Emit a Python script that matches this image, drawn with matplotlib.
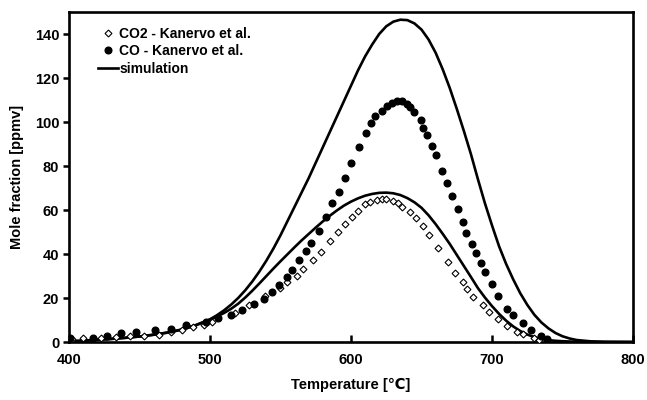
import matplotlib
matplotlib.use('Agg')
import matplotlib.pyplot as plt

# шрифты: Arial-подобный жирный, ℃ берём из DejaVu
plt.rcParams['font.family'] = ['Liberation Sans', 'DejaVu Sans']
plt.rcParams['font.weight'] = 'bold'

# CO2 - Kanervo et al. (ромбы)
co2_t = [402, 410, 423, 433, 443, 453, 464, 472.5, 480, 488, 496, 501.5, 517.7, 528, 538.7,
         549.3, 554.4, 561.7, 566, 573.3, 578.6, 584.9, 590.5, 595.7, 600.7, 605.2, 610.2,
         613.5, 618.5, 621.8, 625, 630, 633.5, 636.5, 641.8, 645.9, 651, 655.5, 661.5,
         668.7, 673.8, 679.7, 682.5, 686.8, 693.8, 698.1, 704.5, 710.9, 717.9, 722.2, 729.5, 733.5]
co2_v = [1.2, 1.8, 2.0, 2.2, 2.6, 2.8, 3.1, 4.4, 5.5, 6.6, 7.7, 8.9, 13, 16.8, 21,
         24.4, 27.1, 30.2, 33, 37.2, 40.9, 45.8, 50.1, 53.6, 56.8, 59.6, 62.6,
         63.5, 64.5, 64.9, 64.9, 64.2, 63.2, 61.5, 59, 56.2, 52.6, 48.8, 42.9,
         36.5, 31.5, 27.4, 24, 20.6, 16.8, 13.8, 10.3, 7.3, 4.7, 3.5, 1.7, 0.9]

# CO - Kanervo et al. (закрашенные кружки)
co_t = [400.7, 416.8, 427, 436.9, 447.3, 461, 472, 483, 497, 505.5, 515, 522.5, 531.5, 538.4,
        543.7, 548.7, 554.7, 558.2, 563.3, 568.4, 571.5, 577, 582.3, 586.5, 591.7, 595.7,
        600, 605.7, 610.6, 614, 617, 621.8, 625.3, 628.9, 632.4, 635.9, 639.5, 642, 644.8,
        649.6, 651.3, 653.7, 657.2, 660.3, 664.5, 668, 671.8, 676.1, 679.2, 681.3, 685.6,
        688.7, 692, 695.3, 700.2, 704.5, 710.9, 715.1, 722.2, 727.7, 734.8, 738.8]
co_v = [1.7, 2.0, 2.9, 4.1, 4.5, 5.5, 5.9, 7.6, 9.1, 10.8, 12.3, 14.7, 17.1, 19.7,
        22.8, 25.9, 29.7, 32.9, 37.1, 41.3, 45.2, 50.5, 57, 63, 68.2, 74.4,
        81.2, 88.5, 94.9, 99.7, 102.7, 105, 107.2, 108.7, 109.5, 109.4, 108.4, 106.8, 104.5,
        100.9, 97.4, 94.1, 89.1, 84.9, 77.7, 72.4, 66.4, 60.5, 54.7, 49.7, 44.5,
        40.3, 36, 32, 26.4, 20.9, 15, 12.3, 8.8, 5.5, 2.7, 1.2]

# simulation, CO (верхняя кривая)
sim_co_t = [400, 410, 420, 430, 440, 450, 460, 470, 480, 490, 500, 505, 510, 515, 520, 525,
            530, 535, 540, 545, 550, 555, 560, 565, 570, 575, 580, 585, 590, 595, 600, 605,
            610, 615, 620, 625, 630, 635, 640, 645, 650, 655, 660, 665, 670, 675, 680, 685,
            690, 695, 700, 705, 710, 715, 720, 725, 730, 735, 740, 745, 750, 755, 760, 770,
            780, 800]
sim_co_v = [0.3, 0.6, 1.0, 1.4, 1.9, 2.5, 3.3, 4.3, 5.6, 7.6, 10.3, 12.2, 14.4, 17, 20, 23.5,
            27.5, 32, 37, 42.5, 48.5, 55, 61.5, 68, 74.5, 81.5, 88.5, 95.5, 102.5, 109.5, 116.5, 123.5,
            129.8, 135.2, 140, 143.5, 145.6, 146.5, 146.3, 144.8, 142, 137.5, 131.5, 124, 115.5, 106, 96, 85.5,
            74, 63, 53, 43.5, 35.5, 28.5, 22.2, 16.9, 12.4, 8.9, 6.2, 4.1, 2.6, 1.6, 0.9, 0.3,
            0.1, 0]

# simulation, CO2 (нижняя кривая)
sim_co2_t = [400, 410, 420, 430, 440, 450, 460, 470, 480, 490, 500, 505, 510, 515, 520, 525,
             530, 535, 540, 545, 550, 555, 560, 565, 570, 575, 580, 585, 590, 595, 600, 605,
             610, 615, 620, 625, 630, 635, 640, 645, 650, 655, 660, 665, 670, 675, 680, 685,
             690, 695, 700, 705, 710, 715, 720, 725, 730, 735, 740, 745, 750, 760, 780, 800]
sim_co2_v = [0.3, 0.6, 1.0, 1.4, 1.9, 2.5, 3.3, 4.3, 5.7, 7.7, 10.2, 11.6, 13.2, 15.1, 17.4, 20.2,
             23.3, 26.6, 30, 33.4, 36.7, 39.9, 43.1, 46.2, 49.1, 52, 54.8, 57.4, 59.8, 62, 63.8, 65.3,
             66.5, 67.3, 67.8, 67.9, 67.6, 66.8, 65.4, 63.5, 61, 57.6, 53.6, 49.2, 44.6, 39.6, 34.6, 29.6,
             24.5, 20.2, 16.3, 12.8, 9.7, 7.1, 5.0, 3.4, 2.2, 1.4, 0.85, 0.55, 0.35, 0.1, 0, 0]

fig = plt.figure(figsize=(6.47, 4.0), dpi=100)
ax = fig.add_axes([0.1066, 0.145, 0.8718, 0.825])

ax.plot(co2_t, co2_v, linestyle='none', marker='D', markersize=3.5, markerfacecolor='white',
        markeredgecolor='black', markeredgewidth=0.8, label='CO2 - Kanervo et al.', zorder=3)
ax.plot(co_t, co_v, linestyle='none', marker='o', markersize=4.8, color='black',
        label='CO - Kanervo et al.', zorder=3)
ax.plot(sim_co_t, sim_co_v, color='black', linewidth=1.9, label='simulation', zorder=2)
ax.plot(sim_co2_t, sim_co2_v, color='black', linewidth=1.9, zorder=2)

ax.set_xlim(400, 800)
ax.set_ylim(0, 150)
ax.set_xticks([400, 500, 600, 700, 800])
ax.set_yticks([0, 20, 40, 60, 80, 100, 120, 140])
ax.tick_params(axis='x', direction='in', length=5, width=1.8, labelsize=10.5, pad=8)
ax.tick_params(axis='y', direction='out', length=4, width=1.8, labelsize=10.5, pad=3)
for s in ax.spines.values():
    s.set_linewidth(1.9)

ax.set_xlabel('Temperature [℃]', fontsize=10.5, fontweight='bold', labelpad=8)
ax.set_ylabel('Mole fraction [ppmv]', fontsize=10.5, fontweight='bold', labelpad=8)

leg = ax.legend(loc='upper left', bbox_to_anchor=(0.035, 0.985), frameon=False, fontsize=10,
                handlelength=1.4, handletextpad=0.1, labelspacing=0.25, borderaxespad=0.3)

fig.savefig('out.png', dpi=100)
